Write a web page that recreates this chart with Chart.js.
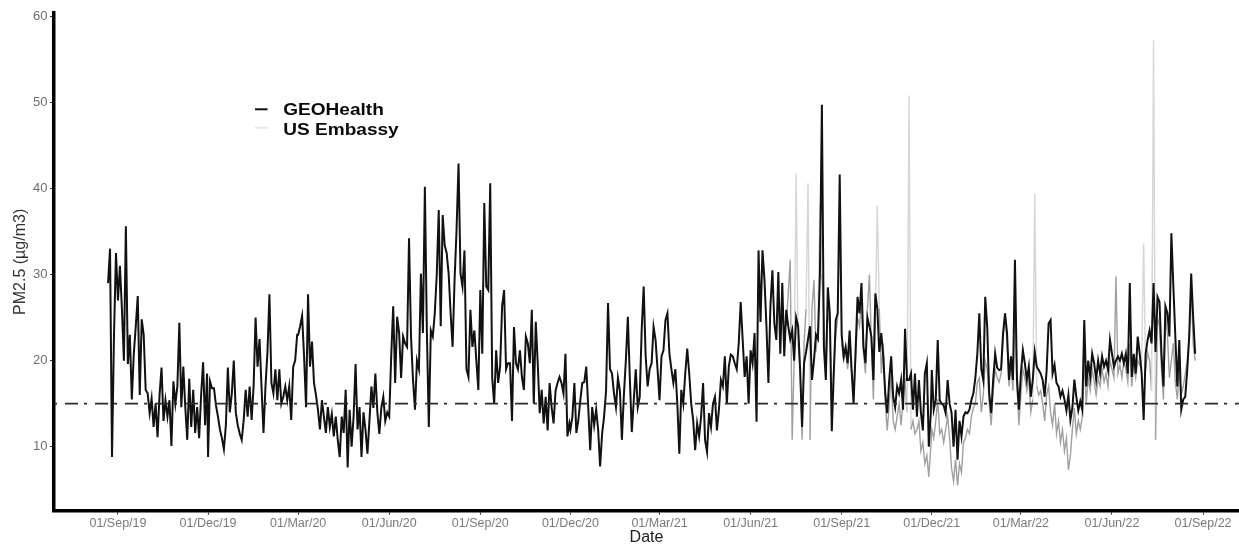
<!DOCTYPE html>
<html>
<head>
<meta charset="utf-8">
<script src="https://cdn.jsdelivr.net/npm/chart.js@4.4.1/dist/chart.umd.min.js"></script>
<style>
  html, body { margin: 0; padding: 0; background: #fff; }
  #wrap { width: 1239px; height: 546px; }
</style>
</head>
<body>
<div id="wrap"><canvas id="pm" width="1239" height="546"></canvas></div>
<script>
// Daily PM2.5 readings sampled every second day, grouped by quarter.
// Each array starts on the date given in the segment tables below.
const SAMPLE_STEP_DAYS = 2;

const geoAug19 = [29, 33, 8.8, 23, 32.5];
const geoSep19 = [27, 31, 26, 20, 35.6, 19.6, 23, 15.5, 20.8, 24, 27.5, 16, 24.8, 23, 16.6, 16.2, 13.9, 15.6, 12.3, 15,
  11.1, 16, 19.2, 13, 15.4, 13.5, 15.4, 10.1, 17.6, 15, 17, 24.4, 14.6, 19.3, 14.6, 10.8, 17.9, 12.3, 16.6, 11.6,
  14.6, 11, 16, 19.8, 12.5, 18.5];
const geoDec19 = [8.8, 17.6, 16.8, 16.8, 14.8, 13.5, 12, 11, 9.7, 12.5, 19.2, 14, 16.2, 20, 14, 12.5, 11.5, 10.8, 13.1, 16.6,
  13.5, 17, 13.1, 17, 25, 19.3, 22.5, 17, 11.6, 17, 21, 27.7, 17.4, 16.2, 19, 15.4, 19, 15, 15.8, 17,
  15.4, 17, 13.1, 19.3, 20, 23];
const geoMar20 = [23, 24, 25.2, 20.5, 14.6, 27.7, 19.3, 22.2, 17.4, 16, 14.3, 12, 15.4, 13.5, 11.6, 14.6, 12.3, 13.8, 11.2, 13.5,
  10.8, 8.8, 13.5, 11.6, 16.6, 7.6, 14.3, 10, 13.5, 19.6, 12, 14.6, 8.8, 14, 12, 9.2, 13, 17, 14.5, 18.5,
  14, 11.5, 14.5, 15.8, 13, 14];
const geoJun20 = [13.5, 20.5, 26.3, 17.4, 25.1, 23.2, 18, 22.8, 22, 21.6, 34.2, 22.8, 17.8, 14.3, 20, 19, 30.1, 23.2, 40.2, 23.5,
  12.3, 23.5, 22.8, 25.5, 30, 37.5, 24, 36.9, 33.4, 32.5, 30.1, 25.5, 21.6, 29.4, 35.2, 42.9, 30.1, 28.6, 32.8, 19,
  18.1, 25.9, 21.6, 23.5, 20, 16.6];
const geoSep20 = [28.2, 20.8, 38.3, 28.6, 28.2, 40.6, 18, 15, 21.2, 17.4, 19.3, 26.3, 28.2, 19, 19.7, 19.7, 13, 23.9, 19.7, 19,
  21.2, 18.1, 16.6, 22.8, 22, 19.7, 25.9, 15, 24.5, 19.7, 13.9, 16.6, 12.7, 15.8, 11.9, 17.4, 14.6, 12.7, 16.5, 17.4,
  18.1, 17.4, 16.2, 20.8, 11.2, 12.7];
const geoDec20 = [12, 13.5, 17.4, 11.6, 13.1, 15.4, 17.4, 17.5, 19.3, 14.6, 9.6, 14.6, 12.5, 14.3, 12, 7.7, 11.5, 13.5, 16.5, 26.7,
  19, 18.5, 16.2, 14.6, 18, 16.5, 10.8, 16, 20, 25.1, 18, 11.7, 15.4, 19, 14.6, 15.8, 23.6, 28.6, 20.5, 17,
  19, 19.7, 23.9, 22.4, 19];
const geoMar21 = [15.4, 20.5, 21.2, 24.7, 25.5, 20.8, 19, 17.4, 19, 15, 9.2, 16.6, 15, 18.5, 21.4, 18.5, 15, 13.1, 9.6, 12.7,
  11.2, 13.5, 17.4, 10.8, 9.4, 13.9, 12.3, 15, 15.8, 11.9, 14.3, 17.75, 17, 20.5, 15, 19.3, 20.7, 20.5, 19.7, 19,
  22, 26.8, 22.4, 18.1, 20.5, 15];
const geoJun21 = [21.2, 19.7, 23.2, 12.9, 32.8, 24.5, 32.8, 29.4, 24, 17.4, 26.3, 30.5, 24.3, 22.4, 30.3, 20.8, 29, 20.5, 25.9, 24,
  22.5, 23.5, 20, 25, 24, 19, 12.3, 19.7, 21, 22.5, 24, 17.75, 20, 23, 22.5, 30, 49.7, 21.6, 17.75, 28.5,
  25.5, 11.8, 18.5, 24.7, 25.5, 41.6];
const geoSep21 = [23, 20.5, 21.6, 19.7, 23.5, 19, 15, 21, 27.4, 25.5, 29, 21.6, 19.7, 25, 24, 22.8, 17.75, 27.8, 26, 21,
  23.2, 20.5, 16.2, 13.9, 17.75, 20.5, 15.8, 14.6, 17, 16.2, 17.75, 14.3, 23.7, 17.75, 17.75, 18.5, 14.3, 18.5, 13.5, 17.75,
  14, 11.9, 18.5, 19.7, 10, 13.9];
const geoDec21 = [18.9, 14.3, 15.4, 22.4, 15.4, 15, 14.8, 13.9, 17.75, 15, 13.9, 10, 14.3, 8.5, 13, 11.2, 13.5, 14, 13.9, 14.3,
  15.4, 16.2, 18, 20.8, 25.5, 19, 17.75, 27.4, 23.9, 16.2, 13.9, 17.75, 20.8, 19.2, 18.9, 19, 23.2, 25.5, 23.2, 17.75,
  20.5, 17.75, 31.7, 18, 14.3];
const geoMar22 = [18.5, 21.2, 19.7, 17.75, 19.3, 15.8, 17.75, 21, 19.3, 18.9, 18.5, 17.75, 15.8, 18.9, 24.3, 24.7, 18.5, 19.5, 17.4, 17,
  15.8, 16.5, 15.5, 14.2, 16, 13.1, 14.5, 17.8, 15.8, 14.2, 15.3, 14.3, 24.7, 17, 20, 18.1, 20.8, 19.7, 17.8, 20,
  18.5, 20.5, 19.3, 20, 18.9, 22.4];
const geoJun22 = [20.8, 19.3, 20, 20.5, 20, 20.8, 19.7, 20.8, 18.5, 29, 18.1, 20.8, 18.5, 22.8, 20.8, 18.5, 13.1, 20.8, 22.4, 23.5,
  22, 29, 21, 27.4, 26.8, 20.8, 17, 26.3, 25.5, 22.8, 34.8, 28.6, 22.8, 17, 22.4, 14.3, 15.5, 15.8, 18.9, 22.8,
  30.1, 25.1, 20.8];

const embassyJul21 = [24, 27.8, 31.7, 10.8, 20, 41.7, 22, 19, 10.8, 22, 26, 40.6, 10.8, 26, 29.4, 21, 24, 38, 30, 25,
  19, 26, 24, 14, 19, 23, 25, 35];
const embassySep21 = [22, 20, 21, 19, 22, 18.5, 16, 20, 25, 24, 27, 21, 18.5, 26, 30, 22, 15.5, 25, 38, 26,
  18.5, 22, 15, 11.9, 15, 18.5, 13, 12, 13.5, 15, 12.5, 15.5, 18, 14, 50.8, 12, 13, 11.5, 12, 13,
  9.5, 10.5, 8, 9, 6.5, 10];
const embassyDec21 = [12, 11, 13, 15.5, 11.5, 12, 10.5, 12, 13.5, 11, 7.5, 6, 8.5, 5.5, 8, 7, 10.5, 11, 12, 11.5,
  13.5, 14.5, 15, 17.5, 18, 14, 16, 20, 19, 15, 12.5, 16.5, 19, 18, 17.5, 18.5, 22.5, 25.5, 22, 17,
  19.5, 16.5, 29, 17, 12.5];
const embassyMar22 = [16, 19, 18, 16.5, 18, 14, 15.5, 39.4, 17, 16, 16.5, 15, 13, 16, 17, 14, 12.5, 15, 11.5, 13,
  10.5, 12, 9.5, 11, 7.3, 9, 12, 14.5, 11.5, 13, 12, 13.5, 20, 15, 18, 16.5, 19, 17.5, 16, 18,
  17, 19, 17.5, 18.5, 17, 20];
const embassyJun22 = [19, 18, 29.8, 18.5, 19.5, 18, 20, 19, 17.5, 22, 17, 19.5, 18, 20, 19.5, 20, 33.6, 19, 21, 20,
  16.5, 57.2, 10.8, 25, 24, 19, 15.5, 25.5, 23, 18, 20, 22, 17.5, 15.5, 19, 16, 17, 18.5, 20, 22.5,
  28.6, 22, 20];

// Start date of each block of samples
const geoSegments = [
  ['2019-08-22', geoAug19], ['2019-09-01', geoSep19], ['2019-12-01', geoDec19],
  ['2020-03-01', geoMar20], ['2020-06-01', geoJun20], ['2020-09-01', geoSep20],
  ['2020-12-01', geoDec20], ['2021-03-01', geoMar21], ['2021-06-01', geoJun21],
  ['2021-09-01', geoSep21], ['2021-12-01', geoDec21], ['2022-03-01', geoMar22],
  ['2022-06-01', geoJun22]
];
const embassySegments = [
  ['2021-07-07', embassyJul21], ['2021-09-01', embassySep21], ['2021-12-01', embassyDec21],
  ['2022-03-01', embassyMar22], ['2022-06-01', embassyJun22]
];

// Axis ticks
const xTickDates = ['2019-09-01', '2019-12-01', '2020-03-01', '2020-06-01', '2020-09-01', '2020-12-01',
  '2021-03-01', '2021-06-01', '2021-09-01', '2021-12-01', '2022-03-01', '2022-06-01', '2022-09-01'];
const xTickLabels = ['01/Sep/19', '01/Dec/19', '01/Mar/20', '01/Jun/20', '01/Sep/20', '01/Dec/20',
  '01/Mar/21', '01/Jun/21', '01/Sep/21', '01/Dec/21', '01/Mar/22', '01/Jun/22', '01/Sep/22'];
const yTickValues = [10, 20, 30, 40, 50, 60];
const guidelineValue = 15;
const seriesNames = ['GEOHealth', 'US Embassy'];

// Days are counted from 1 Sep 2019
const ORIGIN = Date.UTC(2019, 8, 1);
function dayOf(iso) {
  const [y, m, d] = iso.split('-').map(Number);
  return (Date.UTC(y, m - 1, d) - ORIGIN) / 86400000;
}
function buildPoints(segments) {
  const pts = [];
  segments.forEach(([start, vals]) => {
    const d0 = dayOf(start);
    vals.forEach((v, i) => pts.push({ x: d0 + i * SAMPLE_STEP_DAYS, y: v }));
  });
  return pts;
}

const FONT = '"Liberation Sans", Arial, sans-serif';
const GEO_COLOR = '#111111';
const EMB_COLOR = '#a0a0a0';
const EMB_PEAK_COLOR = '#d6d6d6';

// Dash-dot reference line at the guideline level
const guidelinePlugin = {
  id: 'guideline',
  afterDatasetsDraw(chart) {
    const { ctx, chartArea, scales } = chart;
    const y = scales.y.getPixelForValue(guidelineValue);
    ctx.save();
    ctx.strokeStyle = '#2b2b2b';
    ctx.lineWidth = 1.6;
    ctx.setLineDash([13, 6, 3, 8]);
    ctx.lineDashOffset = 19;
    ctx.beginPath();
    ctx.moveTo(chartArea.left, y);
    ctx.lineTo(chartArea.right, y);
    ctx.stroke();
    ctx.restore();
  }
};

// Key placed inside the plotting area
const keyPlugin = {
  id: 'inlineKey',
  afterDraw(chart) {
    const { ctx } = chart;
    const rows = [
      { name: seriesNames[0], color: GEO_COLOR, lineY: 109.3, baseY: 115 },
      { name: seriesNames[1], color: '#e6e6e6', lineY: 127.7, baseY: 135 }
    ];
    ctx.save();
    rows.forEach(r => {
      ctx.strokeStyle = r.color;
      ctx.lineWidth = 2;
      ctx.beginPath();
      ctx.moveTo(255, r.lineY);
      ctx.lineTo(267.5, r.lineY);
      ctx.stroke();
      ctx.save();
      ctx.translate(283.3, r.baseY);
      ctx.scale(1.12, 1);
      ctx.fillStyle = '#0a0a0a';
      ctx.font = 'bold 17px ' + FONT;
      ctx.textBaseline = 'alphabetic';
      ctx.textAlign = 'left';
      ctx.fillText(r.name, 0, 0);
      ctx.restore();
    });
    ctx.restore();
  }
};

new Chart(document.getElementById('pm'), {
  type: 'line',
  data: {
    datasets: [
      {
        label: seriesNames[0],
        data: buildPoints(geoSegments),
        borderColor: GEO_COLOR,
        borderWidth: 2,
        pointRadius: 0,
        tension: 0,
        order: 0
      },
      {
        label: seriesNames[1],
        data: buildPoints(embassySegments),
        borderColor: EMB_COLOR,
        borderWidth: 1.4,
        pointRadius: 0,
        tension: 0,
        order: 1,
        // isolated high readings are single-day spikes and read as faint strokes
        segment: {
          borderColor: c => Math.max(c.p0.parsed.y, c.p1.parsed.y) > 33 ? EMB_PEAK_COLOR : undefined
        }
      }
    ]
  },
  options: {
    responsive: false,
    devicePixelRatio: 1,
    animation: false,
    events: [],
    layout: { padding: { top: 13, right: 0, bottom: 0, left: 0 } },
    plugins: {
      legend: { display: false },
      tooltip: { enabled: false },
      title: { display: false }
    },
    scales: {
      x: {
        type: 'linear',
        min: -64.6,
        max: 1132.3,
        afterBuildTicks(scale) {
          scale.ticks = xTickDates.map(d => ({ value: dayOf(d) }));
        },
        afterFit(scale) {
          scale.height = 35.3;
          scale.paddingLeft = 0;
          scale.paddingRight = 0;
        },
        ticks: {
          autoSkip: false,
          maxRotation: 0,
          minRotation: 0,
          padding: 1,
          color: '#7a7a7a',
          font: { family: FONT, size: 12.5 },
          callback(value) {
            const i = xTickDates.findIndex(d => dayOf(d) === value);
            return i >= 0 ? xTickLabels[i] : '';
          }
        },
        grid: {
          display: true,
          drawOnChartArea: false,
          drawTicks: true,
          tickLength: 4,
          tickColor: '#333',
          tickWidth: 1
        },
        border: { display: true, color: '#000', width: 3.5 },
        title: {
          display: true,
          text: 'Date',
          color: '#222',
          font: { family: FONT, size: 16, lineHeight: 1 },
          padding: { top: 0, bottom: 0 }
        }
      },
      y: {
        type: 'linear',
        min: 2.57,
        max: 60.37,
        afterBuildTicks(scale) {
          scale.ticks = yTickValues.map(v => ({ value: v }));
        },
        afterFit(scale) {
          scale.width = 54;
          scale.paddingTop = 0;
          scale.paddingBottom = 0;
        },
        ticks: {
          padding: 2.5,
          color: '#6e6e6e',
          font: { family: FONT, size: 13 }
        },
        grid: {
          display: true,
          drawOnChartArea: false,
          drawTicks: true,
          tickLength: 4,
          tickColor: '#333',
          tickWidth: 1
        },
        border: { display: true, color: '#000', width: 3.5 },
        title: {
          display: true,
          text: 'PM2.5 (µg/m3)',
          color: '#333',
          font: { family: FONT, size: 16 },
          padding: { top: 11, bottom: 0 }
        }
      }
    }
  },
  plugins: [guidelinePlugin, keyPlugin]
});
</script>
</body>
</html>
